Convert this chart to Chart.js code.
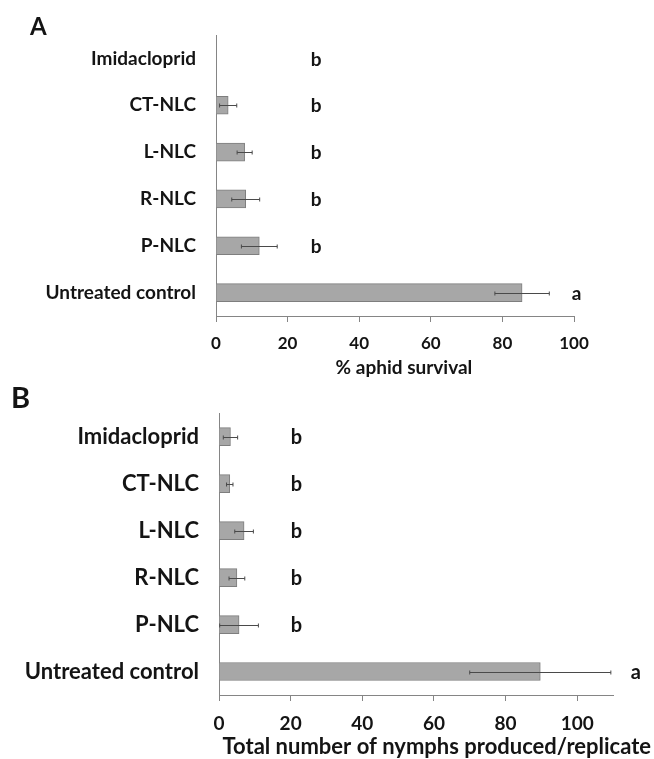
<!DOCTYPE html>
<html>
<head>
<meta charset="utf-8">
<script src="https://cdn.jsdelivr.net/npm/chart.js@4/dist/chart.umd.min.js"></script>
<style>
  html, body { margin: 0; padding: 0; background: #fff; }
  #wrap { position: relative; width: 654px; height: 759px; }
  canvas { position: absolute; left: 0; }
  #panelA { top: 0; }
  #panelB { top: 380px; }
</style>
</head>
<body>
<div id="wrap">
  <canvas id="panelA" width="654" height="380"></canvas>
  <canvas id="panelB" width="654" height="379"></canvas>
</div>
<script>
// Treatments, top to bottom
const treatments = ['Imidacloprid', 'CT-NLC', 'L-NLC', 'R-NLC', 'P-NLC', 'Untreated control'];

// Panel A: % aphid survival (mean and error)
const survivalMean = [0, 3.4, 8.0, 8.3, 12.1, 85.5];
const survivalErr  = [0, 2.4, 2.1, 3.9, 5.0, 7.6];
const survivalGroups = ['b', 'b', 'b', 'b', 'b', 'a'];

// Panel B: total nymphs produced per replicate (mean and error)
const nymphMean = [3.2, 3.0, 7.0, 5.0, 5.6, 89.7];
const nymphErr  = [2.0, 0.9, 2.6, 2.2, 5.4, 19.7];
const nymphGroups = ['b', 'b', 'b', 'b', 'b', 'a'];

const FONT = 'Lato';
const INK = '#141414';
const AXIS = '#858585';

// Error bars, significance letters, axis title and panel letter
const annotate = {
  id: 'annotate',
  afterDatasetsDraw(chart, args, o) {
    const { ctx } = chart;
    const xs = chart.scales.x, ys = chart.scales.y;
    const data = chart.data.datasets[0].data;
    ctx.save();
    ctx.strokeStyle = '#4a4a4a';
    ctx.lineWidth = 1;
    data.forEach((v, i) => {
      const e = o.err[i];
      if (!e) return;
      const py = Math.round(ys.getPixelForValue(i)) + 0.5;
      const x1 = xs.getPixelForValue(Math.max(0, v - e));
      const x2 = xs.getPixelForValue(v + e);
      ctx.beginPath();
      ctx.moveTo(x1, py); ctx.lineTo(x2, py);
      ctx.moveTo(x1, py - 2); ctx.lineTo(x1, py + 2);
      ctx.moveTo(x2, py - 2); ctx.lineTo(x2, py + 2);
      ctx.stroke();
    });

    ctx.fillStyle = INK;
    ctx.textAlign = 'center';
    ctx.textBaseline = 'middle';
    ctx.font = `bold ${o.letterSize}px ${FONT}`;
    o.groups.forEach((g, i) => {
      const px = xs.getPixelForValue(g === 'a' ? o.aAt : o.bAt);
      ctx.fillText(g, px, ys.getPixelForValue(i) + 1);
    });

    ctx.font = `bold ${o.titleSize}px ${FONT}`;
    ctx.fillText(o.title, xs.getPixelForValue(o.titleAt), o.titleY);

    ctx.textAlign = 'left';
    ctx.font = `bold ${o.panelSize}px ${FONT}`;
    ctx.fillText(o.panel, o.panelX, o.panelY);
    ctx.restore();
  }
};

function drawPanel(id, mean, err, groups, cfg) {
  return new Chart(document.getElementById(id), {
    type: 'bar',
    data: {
      labels: treatments,
      datasets: [{
        data: mean,
        backgroundColor: '#a7a7a7',
        borderColor: '#7e7e7e',
        borderWidth: 1,
        barThickness: 18
      }]
    },
    options: {
      indexAxis: 'y',
      responsive: false,
      animation: false,
      events: [],
      layout: { padding: { top: cfg.top, right: cfg.right, left: 0, bottom: 0 } },
      plugins: {
        legend: { display: false },
        tooltip: { enabled: false },
        annotate: {
          err, groups,
          bAt: cfg.bAt, aAt: cfg.aAt, letterSize: cfg.letterSize,
          title: cfg.title, titleAt: cfg.titleAt, titleY: cfg.titleY, titleSize: cfg.titleSize,
          panel: cfg.panel, panelX: cfg.panelX, panelY: cfg.panelY, panelSize: cfg.panelSize
        }
      },
      scales: {
        x: {
          min: 0,
          max: cfg.max,
          ticks: {
            stepSize: 20,
            includeBounds: false,
            padding: 11,
            color: INK,
            font: { family: FONT, weight: 'bold', size: cfg.tickSize }
          },
          grid: { drawOnChartArea: false, drawTicks: true, tickLength: 6, color: AXIS },
          border: { color: AXIS, width: 1 },
          afterFit: s => { s.height = cfg.xHeight; }
        },
        y: {
          ticks: {
            padding: 20,
            color: INK,
            font: { family: FONT, weight: 'bold', size: cfg.labelSize }
          },
          grid: { display: false, drawTicks: false },
          border: { color: AXIS, width: 1 },
          afterFit: s => { s.width = cfg.yWidth; }
        }
      }
    },
    plugins: [annotate]
  });
}

drawPanel('panelA', survivalMean, survivalErr, survivalGroups, {
  top: 35, right: 80, max: 100, xHeight: 64, yWidth: 216,
  tickSize: 17, labelSize: 19,
  bAt: 28, aAt: 100.7, letterSize: 19,
  title: '% aphid survival', titleAt: 52.5, titleY: 368, titleSize: 19,
  panel: 'A', panelX: 30, panelY: 27, panelSize: 24
});

drawPanel('panelB', nymphMean, nymphErr, nymphGroups, {
  top: 32, right: 41, max: 110, xHeight: 64, yWidth: 219,
  tickSize: 19, labelSize: 22,
  bAt: 21.6, aAt: 116.4, letterSize: 20,
  title: 'Total number of nymphs produced/replicate', titleAt: 60.8, titleY: 367, titleSize: 22,
  panel: 'B', panelX: 11, panelY: 19, panelSize: 29
});
</script>
</body>
</html>
